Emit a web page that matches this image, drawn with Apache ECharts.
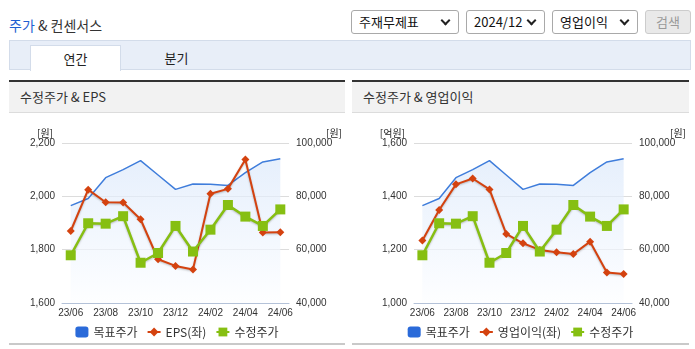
<!DOCTYPE html>
<html>
<head>
<meta charset="utf-8">
<script src="https://cdn.jsdelivr.net/npm/echarts@6/dist/echarts.min.js"></script>
<style>
  body { margin: 0; background: #fff; font-family: 'Noto Sans CJK KR', 'Noto Sans', sans-serif; }
  #page { position: relative; width: 695px; height: 349px; overflow: hidden; background: #fff; }
  .title { position: absolute; left: 9px; top: 14px; font-size: 14px; line-height: 22px; color: #333; }
  .title span { color: #1f5fd1; }
  .sel { position: absolute; top: 10px; height: 24px; box-sizing: border-box; border: 1px solid #a9a9a9; border-radius: 3px;
         font-size: 13px; line-height: 22px; color: #111; padding-left: 7px; background: #fff; }
  .sel i { position: absolute; right: 9px; top: 6px; width: 5px; height: 5px; border-right: 2px solid #222; border-bottom: 2px solid #222; transform: rotate(45deg); }
  .btn { position: absolute; top: 10px; left: 645px; width: 46px; height: 24px; box-sizing: border-box; border: 1px solid #ccc; border-radius: 3px;
         background: #e9e9e9; color: #9a9a9a; font-size: 13px; line-height: 22px; text-align: center; }
  .tabs { position: absolute; left: 9px; top: 40px; width: 682px; height: 30px; box-sizing: border-box; background: #e8eef8; border: 1px solid #d3dcea; }
  .tab { position: absolute; top: 4px; height: 25px; width: 91px; text-align: center; font-size: 13px; line-height: 25px; color: #222; }
  .tab.on { background: #fff; border: 1px solid #d3dcea; border-bottom: none; box-sizing: border-box; height: 26px; }
  .panel { position: absolute; top: 80px; height: 265px; }
  .panel .hd { height: 30px; border-top: 2px solid #333; background: #f2f2f2; border-bottom: 1px solid #dcdcdc;
               font-size: 13px; line-height: 30px; padding-left: 11px; color: #333; }
  .panel .ft { position: absolute; left: 0; right: 0; bottom: 0; height: 2px; background: #c9c9c9; }
  .panel .ch { position: absolute; left: 0; top: 33px; width: 100%; height: 230px; }
</style>
</head>
<body>
<div id="page">
  <div class="title"><span>주가</span> &amp; 컨센서스</div>
  <div class="sel" style="left:351px;width:108px;">주재무제표<i></i></div>
  <div class="sel" style="left:466px;width:79px;">2024/12<i></i></div>
  <div class="sel" style="left:552px;width:86px;">영업이익<i></i></div>
  <div class="btn">검색</div>

  <div class="tabs">
    <div class="tab on" style="left:20px;">연간</div>
    <div class="tab" style="left:121px;">분기</div>
  </div>

  <div class="panel" style="left:9px;width:336px;">
    <div class="hd">수정주가 &amp; EPS</div>
    <div class="ch" id="chartEps"></div>
    <div class="ft"></div>
  </div>
  <div class="panel" style="left:352px;width:337px;">
    <div class="hd">수정주가 &amp; 영업이익</div>
    <div class="ch" id="chartOp"></div>
    <div class="ft"></div>
  </div>
</div>

<script>
// Monthly categories
const months = ['23/06', '23/07', '23/08', '23/09', '23/10', '23/11', '23/12',
                '24/01', '24/02', '24/03', '24/04', '24/05', '24/06'];

// 목표주가 (target price, 원) – right axis
const targetPrice = [76500, 79200, 87000, 90000, 93400, 88000, 82600, 84600, 84500, 84100, 88900, 92900, 94100];

// 수정주가 (adjusted price, 원) – right axis
const adjPrice = [57900, 69900, 69750, 72550, 55100, 58750, 68900, 59300, 67500, 76750, 72400, 68900, 75100];

// EPS (원) – left axis of the first chart
const eps = [1870, 2025, 1978, 1977, 1914, 1764, 1739, 1726, 2010, 2028, 2138, 1864, 1865];

// 영업이익 (operating income, 억원) – left axis of the second chart
const opIncome = [1234, 1349, 1445, 1467, 1426, 1259, 1224, 1199, 1190, 1184, 1230, 1114, 1109];

// Axis ranges
const epsAxis = { min: 1600, max: 2200, interval: 200, unit: '[원]' };
const opAxis = { min: 1000, max: 1600, interval: 200, unit: '[억원]' };
const priceAxis = { min: 40000, max: 100000, interval: 20000, unit: '[원]' };

const numFont = "'Liberation Sans Narrow', 'Liberation Sans', sans-serif";
const krFont = "'Noto Sans CJK KR', sans-serif";
const fmt = v => v.toLocaleString('en-US');

function buildOption(leftName, leftValues, leftAxis, gridLeft, gridRight) {
  const shadow = { shadowColor: 'rgba(0,0,0,0.25)', shadowBlur: 2, shadowOffsetY: 1 };
  return {
    animation: false,
    grid: { left: gridLeft, right: gridRight, top: 30, height: 160 },
    legend: {
      left: 'center', top: 208, itemWidth: 13, itemHeight: 11, itemGap: 9,
      textStyle: { fontFamily: krFont, fontSize: 12, color: '#333' },
      data: [
        { name: '목표주가', icon: 'roundRect' },
        { name: leftName },
        { name: '수정주가' }
      ]
    },
    xAxis: {
      type: 'category', data: months, boundaryGap: true,
      axisLine: { lineStyle: { color: '#b4c2d8', width: 1 } },
      axisTick: { length: 4, lineStyle: { color: '#b4c2d8' }, interval: i => i % 2 === 1 },
      axisLabel: { interval: 1, margin: 5, fontFamily: numFont, fontSize: 10, color: '#333' },
      splitLine: { show: false }
    },
    yAxis: [
      {
        type: 'value', position: 'left', min: leftAxis.min, max: leftAxis.max, interval: leftAxis.interval,
        name: leftAxis.unit, nameLocation: 'end', nameGap: 5,
        nameTextStyle: { fontFamily: krFont, fontSize: 10, color: '#222', align: 'right', padding: [0, 9, 0, 0] },
        axisLine: { show: false }, axisTick: { show: false },
        axisLabel: { margin: 7, formatter: fmt, fontFamily: numFont, fontSize: 10, color: '#333' },
        splitLine: { lineStyle: { color: '#dcdcdc' } }
      },
      {
        type: 'value', position: 'right', min: priceAxis.min, max: priceAxis.max, interval: priceAxis.interval,
        name: priceAxis.unit, nameLocation: 'end', nameGap: 5,
        nameTextStyle: { fontFamily: krFont, fontSize: 10, color: '#222', align: 'left', padding: [0, 0, 0, 37] },
        axisLine: { show: false }, axisTick: { show: false },
        axisLabel: { margin: 7, formatter: fmt, fontFamily: numFont, fontSize: 10, color: '#333' },
        splitLine: { show: false }
      }
    ],
    series: [
      {
        name: '목표주가', type: 'line', yAxisIndex: 1, data: targetPrice,
        symbol: 'none', color: '#2a6ad9',
        lineStyle: { color: '#3f7ddb', width: 1.5 },
        areaStyle: {
          color: new echarts.graphic.LinearGradient(0, 0, 0, 1, [
            { offset: 0, color: '#dbe8fa' },
            { offset: 1, color: '#fcfdff' }
          ])
        },
        z: 1
      },
      {
        name: leftName, type: 'line', yAxisIndex: 0, data: leftValues,
        symbol: 'diamond', symbolSize: 8, color: '#d4420f',
        lineStyle: Object.assign({ color: '#d4420f', width: 2 }, shadow),
        itemStyle: { color: '#d4420f' },
        z: 3
      },
      {
        name: '수정주가', type: 'line', yAxisIndex: 1, data: adjPrice,
        symbol: 'rect', symbolSize: 10, color: '#86bf12',
        lineStyle: Object.assign({ color: '#86bf12', width: 2.5 }, shadow),
        itemStyle: { color: '#86bf12' },
        z: 4
      }
    ]
  };
}

const c1 = echarts.init(document.getElementById('chartEps'), null, { renderer: 'canvas' });
c1.setOption(buildOption('EPS(좌)', eps, epsAxis, 53, 52));

const c2 = echarts.init(document.getElementById('chartOp'), null, { renderer: 'canvas' });
const opt2 = buildOption('영업이익(좌)', opIncome, opAxis, 62, 54);
opt2.yAxis[1].nameTextStyle.padding = [0, 0, 0, 38];
c2.setOption(opt2);
</script>
</body>
</html>
